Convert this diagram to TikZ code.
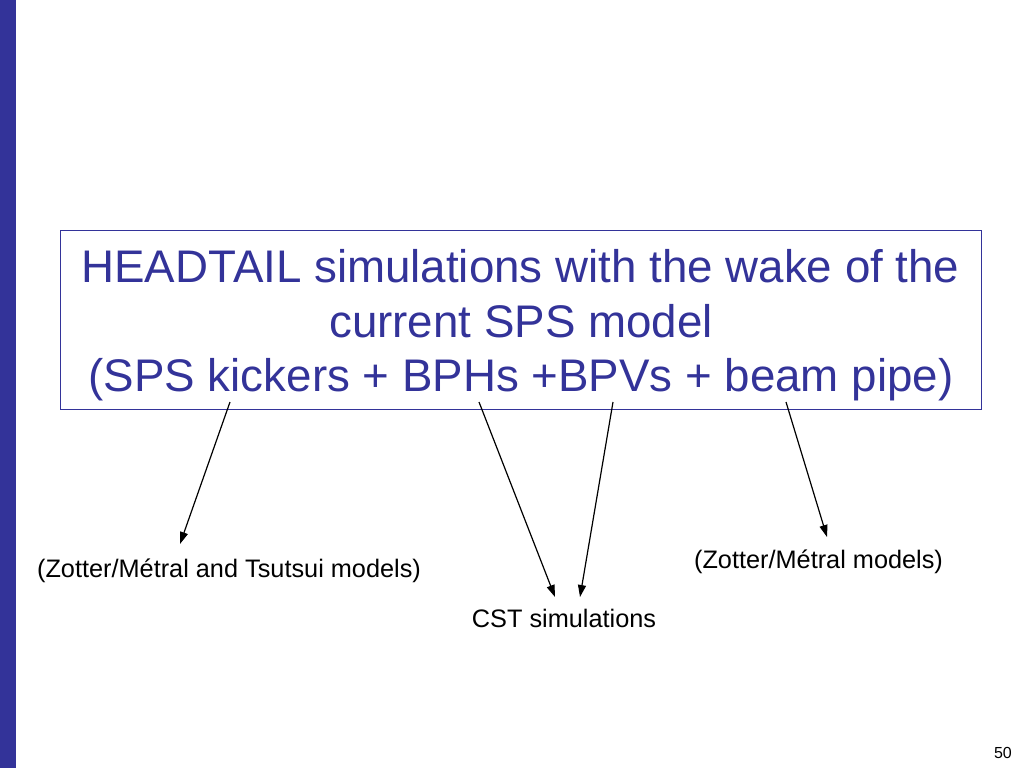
\documentclass[tikz,border=0pt]{standalone}
\usepackage{fontspec}
\setmainfont{Liberation Sans}
\usetikzlibrary{arrows.meta}
\definecolor{slideblue}{RGB}{51,51,153}
\begin{document}
\begin{tikzpicture}[x=1pt,y=-1pt,
  titletext/.style={font=\fontsize{45.7}{54}\selectfont, text=slideblue, anchor=base, inner sep=0pt},
  note/.style={font=\fontsize{25.3}{30}\selectfont, text=black, anchor=base, inner sep=0pt},
  arr/.style={-{Triangle[length=12pt,width=8pt]}, line width=1.2pt, black}]
\useasboundingbox (0,0) rectangle (1024,768);
\fill[slideblue] (0,0) rectangle (16,768);
\node[draw=slideblue, line width=1pt, minimum width=921pt, minimum height=179pt, inner sep=0pt] (box) at (520.5,319.5) {};
\node[titletext] (t1) at (520.5,282) {HEADTAIL simulations with the wake of the};
\node[titletext] (t2) at (521,337) {current SPS model};
\node[titletext] (t3) at (521,391) {(SPS kickers + BPHs +BPVs + beam pipe)};
\node[note] (n1) at (229,577) {(Zotter/Métral and Tsutsui models)};
\node[note] (n2) at (818.5,568) {(Zotter/Métral models)};
\node[note] (n3) at (564,627) {CST simulations};
\node[font=\fontsize{16}{19}\selectfont, anchor=base east, inner sep=0pt] (pg) at (1012,758) {50};
\coordinate (s1) at (230,402);
\coordinate (s2) at (479,402);
\coordinate (s3) at (613,402);
\coordinate (s4) at (786,402);
\coordinate (e1) at (180,544);
\coordinate (e2) at (555,597);
\coordinate (e3) at (580,597);
\coordinate (e4) at (827,537);
\draw[arr] (s1) -- (e1);
\draw[arr] (s2) -- (e2);
\draw[arr] (s3) -- (e3);
\draw[arr] (s4) -- (e4);
\end{tikzpicture}
\end{document}
